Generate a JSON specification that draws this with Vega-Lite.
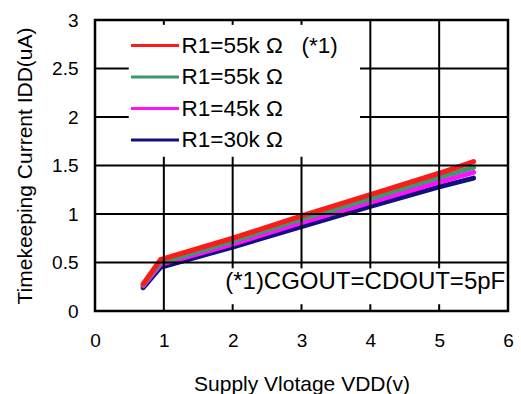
{
  "$schema": "https://vega.github.io/schema/vega-lite/v6.json",
  "width": 413,
  "height": 291,
  "autosize": {"type": "none"},
  "padding": {"left": 95, "top": 20, "right": 13, "bottom": 83},
  "config": {
    "font": "Liberation Sans",
    "view": {"stroke": "black", "strokeWidth": 2.5},
    "axis": {
      "domain": false, "ticks": false, "grid": false,
      "labelFont": "Liberation Sans", "labelFontSize": 19, "labelColor": "black",
      "titleFont": "Liberation Sans", "titleFontSize": 21, "titleFontWeight": "normal", "titleColor": "black"
    }
  },
  "datasets": {
    "curves": [
      {"vdd": 0.7, "idd": 0.24, "series": "R1=30k Ω"},
      {"vdd": 0.95, "idd": 0.45, "series": "R1=30k Ω"},
      {"vdd": 2, "idd": 0.66, "series": "R1=30k Ω"},
      {"vdd": 3, "idd": 0.87, "series": "R1=30k Ω"},
      {"vdd": 4, "idd": 1.08, "series": "R1=30k Ω"},
      {"vdd": 5, "idd": 1.28, "series": "R1=30k Ω"},
      {"vdd": 5.5, "idd": 1.37, "series": "R1=30k Ω"},
      {"vdd": 0.7, "idd": 0.26, "series": "R1=45k Ω"},
      {"vdd": 0.95, "idd": 0.48, "series": "R1=45k Ω"},
      {"vdd": 2, "idd": 0.69, "series": "R1=45k Ω"},
      {"vdd": 3, "idd": 0.91, "series": "R1=45k Ω"},
      {"vdd": 4, "idd": 1.12, "series": "R1=45k Ω"},
      {"vdd": 5, "idd": 1.33, "series": "R1=45k Ω"},
      {"vdd": 5.5, "idd": 1.43, "series": "R1=45k Ω"},
      {"vdd": 0.7, "idd": 0.27, "series": "R1=55k Ω"},
      {"vdd": 0.95, "idd": 0.5, "series": "R1=55k Ω"},
      {"vdd": 2, "idd": 0.72, "series": "R1=55k Ω"},
      {"vdd": 3, "idd": 0.95, "series": "R1=55k Ω"},
      {"vdd": 4, "idd": 1.16, "series": "R1=55k Ω"},
      {"vdd": 5, "idd": 1.38, "series": "R1=55k Ω"},
      {"vdd": 5.5, "idd": 1.48, "series": "R1=55k Ω"},
      {"vdd": 0.7, "idd": 0.28, "series": "R1=55k Ω\u00a0\u00a0\u00a0(*1)"},
      {"vdd": 0.95, "idd": 0.53, "series": "R1=55k Ω\u00a0\u00a0\u00a0(*1)"},
      {"vdd": 2, "idd": 0.75, "series": "R1=55k Ω\u00a0\u00a0\u00a0(*1)"},
      {"vdd": 3, "idd": 0.98, "series": "R1=55k Ω\u00a0\u00a0\u00a0(*1)"},
      {"vdd": 4, "idd": 1.2, "series": "R1=55k Ω\u00a0\u00a0\u00a0(*1)"},
      {"vdd": 5, "idd": 1.42, "series": "R1=55k Ω\u00a0\u00a0\u00a0(*1)"},
      {"vdd": 5.5, "idd": 1.54, "series": "R1=55k Ω\u00a0\u00a0\u00a0(*1)"}
    ],
    "gridlines": [
      {"id": "v1a", "gx": 1, "gy": 0}, {"id": "v1a", "gx": 1, "gy": 1.59},
      {"id": "v1b", "gx": 1, "gy": 2.95}, {"id": "v1b", "gx": 1, "gy": 3},
      {"id": "v2a", "gx": 2, "gy": 0}, {"id": "v2a", "gx": 2, "gy": 0.07},
      {"id": "v2b", "gx": 2, "gy": 0.44}, {"id": "v2b", "gx": 2, "gy": 1.59},
      {"id": "v2c", "gx": 2, "gy": 2.95}, {"id": "v2c", "gx": 2, "gy": 3},
      {"id": "v3a", "gx": 3, "gy": 0}, {"id": "v3a", "gx": 3, "gy": 0.07},
      {"id": "v3b", "gx": 3, "gy": 0.44}, {"id": "v3b", "gx": 3, "gy": 1.59},
      {"id": "v3c", "gx": 3, "gy": 2.95}, {"id": "v3c", "gx": 3, "gy": 3},
      {"id": "v4a", "gx": 4, "gy": 0}, {"id": "v4a", "gx": 4, "gy": 0.07},
      {"id": "v4b", "gx": 4, "gy": 0.44}, {"id": "v4b", "gx": 4, "gy": 3},
      {"id": "v5a", "gx": 5, "gy": 0}, {"id": "v5a", "gx": 5, "gy": 0.07},
      {"id": "v5b", "gx": 5, "gy": 0.44}, {"id": "v5b", "gx": 5, "gy": 3},
      {"id": "h1", "gx": 0, "gy": 0.5}, {"id": "h1", "gx": 6, "gy": 0.5},
      {"id": "h2", "gx": 0, "gy": 1}, {"id": "h2", "gx": 6, "gy": 1},
      {"id": "h3", "gx": 0, "gy": 1.5}, {"id": "h3", "gx": 6, "gy": 1.5},
      {"id": "h4a", "gx": 0, "gy": 2}, {"id": "h4a", "gx": 0.49, "gy": 2},
      {"id": "h4b", "gx": 3.85, "gy": 2}, {"id": "h4b", "gx": 6, "gy": 2},
      {"id": "h5a", "gx": 0, "gy": 2.5}, {"id": "h5a", "gx": 0.49, "gy": 2.5},
      {"id": "h5b", "gx": 3.85, "gy": 2.5}, {"id": "h5b", "gx": 6, "gy": 2.5}
    ],
    "notes": [
      {"x": 5.96, "y": 0.3, "label": "(*1)CGOUT=CDOUT=5pF"}
    ]
  },
  "layer": [
    {
      "data": {"name": "curves"},
      "mark": {"type": "line", "strokeWidth": 5, "strokeCap": "round", "strokeJoin": "round"},
      "encoding": {
        "x": {"field": "vdd", "type": "quantitative", "scale": {"domain": [0, 6]},
              "axis": {"values": [0, 1, 2, 3, 4, 5, 6], "format": "~g",
                       "title": "Supply Vlotage VDD(v)", "labelPadding": 20, "titlePadding": 23, "labelFlush": false}},
        "y": {"field": "idd", "type": "quantitative", "scale": {"domain": [0, 3]},
              "axis": {"values": [0, 0.5, 1, 1.5, 2, 2.5, 3], "format": "~g",
                       "title": "Timekeeping Current IDD(uA)", "labelPadding": 17, "titlePadding": 16, "labelFlush": false}},
        "color": {
          "field": "series", "type": "nominal",
          "scale": {"domain": ["R1=55k Ω\u00a0\u00a0\u00a0(*1)", "R1=55k Ω", "R1=45k Ω", "R1=30k Ω"],
                    "range": ["#ff1a1a", "#3a9a6a", "#ff10ff", "#10107e"]},
          "legend": {
            "title": null, "orient": "none", "legendX": 46.5, "legendY": 12,
            "symbolType": "M-2,0H2", "symbolSize": 576, "symbolStrokeWidth": 3,
            "labelFontSize": 22.5, "labelFont": "Liberation Sans", "labelColor": "black",
            "labelOffset": 13, "rowPadding": 6.5, "padding": 0, "labelLimit": 300
          }
        }
      }
    },
    {
      "data": {"name": "notes"},
      "mark": {"type": "text", "align": "right", "baseline": "middle", "fontSize": 24, "font": "Liberation Sans", "color": "black"},
      "encoding": {
        "x": {"field": "x", "type": "quantitative"},
        "y": {"field": "y", "type": "quantitative"},
        "text": {"field": "label"}
      }
    },
    {
      "data": {"name": "gridlines"},
      "mark": {"type": "line", "stroke": "#000000", "strokeWidth": 2, "opacity": 1},
      "encoding": {
        "x": {"field": "gx", "type": "quantitative"},
        "y": {"field": "gy", "type": "quantitative"},
        "detail": {"field": "id", "type": "nominal"}
      }
    }
  ]
}
